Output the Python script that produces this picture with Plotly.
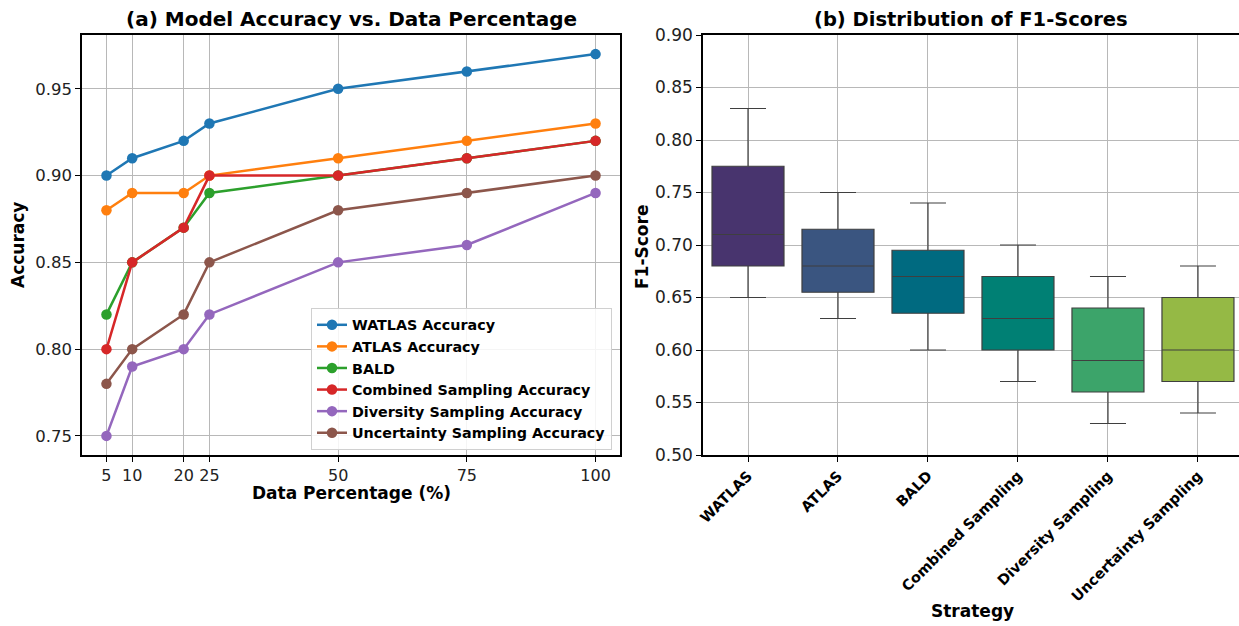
import plotly.graph_objects as go

# Panel (a): accuracy by data percentage
data_pct = [5, 10, 20, 25, 50, 75, 100]
watlas_acc = [0.90, 0.91, 0.92, 0.93, 0.95, 0.96, 0.97]
atlas_acc = [0.88, 0.89, 0.89, 0.90, 0.91, 0.92, 0.93]
bald_acc = [0.82, 0.85, 0.87, 0.89, 0.90, 0.91, 0.92]
combined_acc = [0.80, 0.85, 0.87, 0.90, 0.90, 0.91, 0.92]
diversity_acc = [0.75, 0.79, 0.80, 0.82, 0.85, 0.86, 0.89]
uncertainty_acc = [0.78, 0.80, 0.82, 0.85, 0.88, 0.89, 0.90]

series_names = ["WATLAS Accuracy", "ATLAS Accuracy", "BALD",
                "Combined Sampling Accuracy", "Diversity Sampling Accuracy",
                "Uncertainty Sampling Accuracy"]
series_vals = [watlas_acc, atlas_acc, bald_acc, combined_acc, diversity_acc, uncertainty_acc]
series_colors = ["#1f77b4", "#ff7f0e", "#2ca02c", "#d62728", "#9467bd", "#8c564b"]

# Panel (b): F1-score box summaries
strategies = ["WATLAS", "ATLAS", "BALD", "Combined Sampling",
              "Diversity Sampling", "Uncertainty Sampling"]
f1_low = [0.65, 0.63, 0.60, 0.57, 0.53, 0.54]
f1_q1 = [0.68, 0.655, 0.635, 0.60, 0.56, 0.57]
f1_median = [0.71, 0.68, 0.67, 0.63, 0.59, 0.60]
f1_q3 = [0.775, 0.715, 0.695, 0.67, 0.64, 0.65]
f1_high = [0.83, 0.75, 0.74, 0.70, 0.67, 0.68]
box_colors = ["#48346e", "#3a5580", "#006a80", "#008074", "#3ca46a", "#95b945"]

FONT = "DejaVu Sans"
W, H = 1239, 626

fig = go.Figure()

for name, vals, col in zip(series_names, series_vals, series_colors):
    fig.add_trace(go.Scatter(
        x=data_pct, y=vals, name=name, mode="lines+markers",
        line=dict(color=col, width=2.5),
        marker=dict(color=col, size=10.5),
        xaxis="x", yaxis="y",
    ))

for i, s in enumerate(strategies):
    fig.add_trace(go.Box(
        x=[s], q1=[f1_q1[i]], median=[f1_median[i]], q3=[f1_q3[i]],
        lowerfence=[f1_low[i]], upperfence=[f1_high[i]],
        fillcolor=box_colors[i], line=dict(color="#3f3f3f", width=1.2),
        width=0.8, whiskerwidth=0.5, showlegend=False,
        xaxis="x2", yaxis="y2", hoverinfo="skip",
    ))

def px_x(p):
    return p / W

def px_y(p):
    return 1 - p / H

grid = "#b8b8b8"
axis_common = dict(
    showgrid=True, gridcolor=grid, gridwidth=1.4,
    showline=True, linecolor="black", linewidth=1.5,
    ticks="outside", ticklen=5, tickcolor="black",
    zeroline=False, automargin=False,
)
tick_font = dict(family=FONT, size=16.5, color="#222")

fig.update_layout(
    width=W, height=H,
    margin=dict(l=0, r=0, t=0, b=0),
    paper_bgcolor="white", plot_bgcolor="white",
    font=dict(family=FONT, color="black"),
    boxmode="overlay",
    xaxis=dict(
        domain=[px_x(82), px_x(620)], anchor="y",
        range=[0.25, 104.75], tickvals=data_pct,
        ticktext=[str(v) for v in data_pct],
        tickfont=dict(family=FONT, size=16, color="#222"),
        mirror=True, **axis_common,
    ),
    yaxis=dict(
        domain=[px_y(455), px_y(35)], anchor="x",
        range=[0.739, 0.981], tickvals=[0.75, 0.80, 0.85, 0.90, 0.95],
        tickformat=".2f", tickfont=tick_font,
        mirror=True, **axis_common,
    ),
    xaxis2=dict(
        domain=[px_x(703), 1.0], anchor="y2",
        range=[-0.5, 5.456], type="category", categoryorder="array",
        categoryarray=strategies,
        tickangle=-45,
        tickfont=dict(family=FONT, size=14.5, color="black", weight="bold"),
        mirror=True, **axis_common,
    ),
    yaxis2=dict(
        domain=[px_y(455), px_y(35)], anchor="x2",
        range=[0.5, 0.9], dtick=0.05, tickformat=".2f",
        tickfont=dict(family=FONT, size=17, color="#222"),
        mirror=False, **axis_common,
    ),
    legend=dict(
        x=px_x(612), y=px_y(450), xanchor="right", yanchor="bottom",
        bgcolor="rgba(255,255,255,0.85)", bordercolor="#d0d0d0", borderwidth=1,
        font=dict(family=FONT, size=14.3, color="black", weight="bold"),
        tracegroupgap=0, itemwidth=30,
    ),
)

def label(text, x, y, size=16, angle=0):
    fig.add_annotation(text=f"<b>{text}</b>", x=px_x(x), y=px_y(y),
                       xref="paper", yref="paper", showarrow=False, textangle=angle,
                       font=dict(family=FONT, size=size, color="black"),
                       xanchor="center", yanchor="middle")

# Panel titles
label("(a) Model Accuracy vs. Data Percentage", 351, 19, 20)
label("(b) Distribution of F1-Scores", 971, 19, 19.5)
# Axis titles
label("Data Percentage (%)", 351, 493, 17)
label("Accuracy", 18, 245, 17, -90)
label("Strategy", 972, 611, 17)
label("F1-Score", 642, 247, 17, -90)

fig.write_html("out.html")
